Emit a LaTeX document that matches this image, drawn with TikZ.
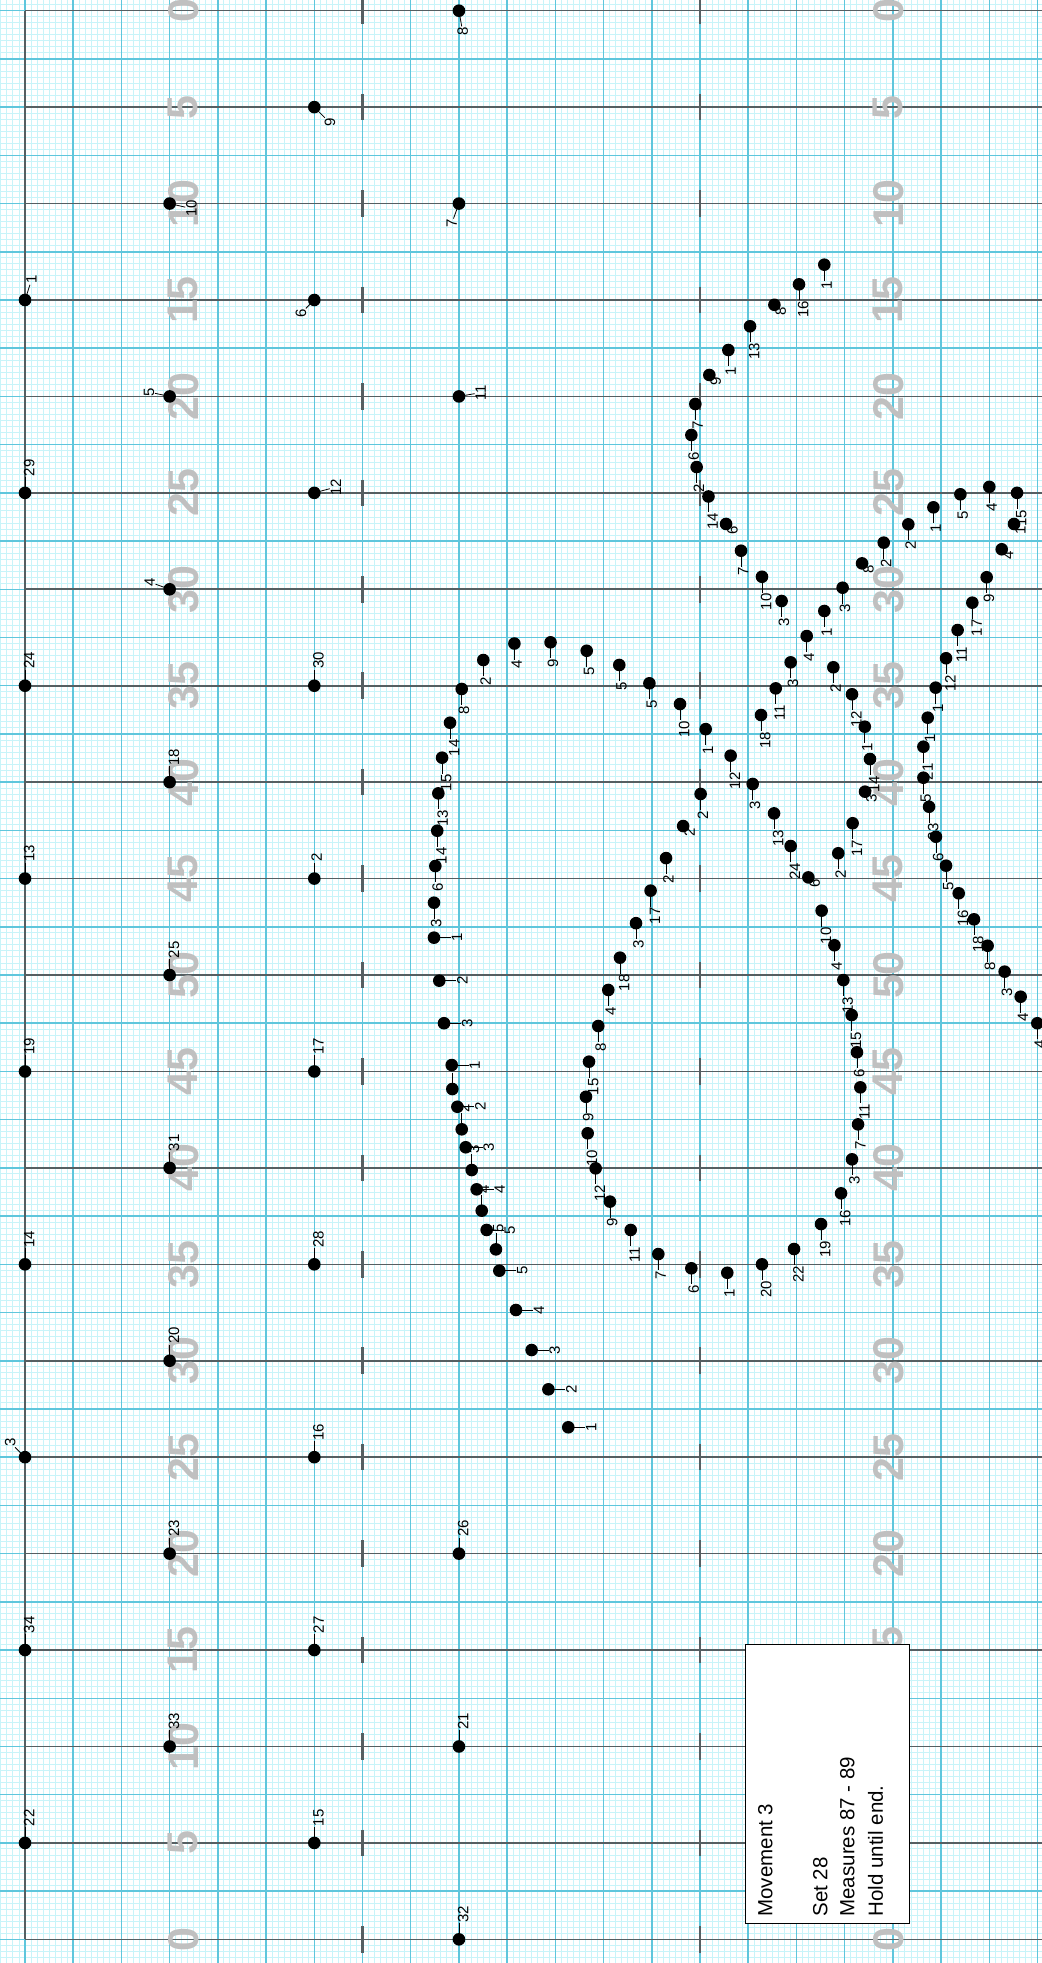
\documentclass[tikz,border=0pt]{standalone}
\usepackage{fontspec}
\setmainfont{Liberation Sans}
\usetikzlibrary{calc}
\pgfdeclarelayer{bg}
\pgfdeclarelayer{lab}
\pgfdeclarelayer{fg}
\pgfsetlayers{bg,lab,main,fg}
\definecolor{finec}{RGB}{200,244,249}
\definecolor{medc}{RGB}{95,198,220}
\definecolor{yardc}{RGB}{85,95,98}
\definecolor{numc}{RGB}{192,192,192}
\tikzset{
 pdot/.style={circle, fill=black, inner sep=0pt, minimum size=12.6pt},
 plab/.style={rotate=90, inner sep=0.6pt, font=\fontsize{15}{15}\selectfont},
 tickln/.style={line width=0.8pt, black},
 fineline/.style={finec, line width=0.9pt},
 medline/.style={medc, line width=1.5pt},
 yardline/.style={yardc, line width=1.6pt},
 hashmark/.style={yardc, line width=2.4pt},
 yardnum/.style={rotate=90, text=numc, inner sep=0pt, font=\fontsize{43}{43}\selectfont\bfseries},
 boxtext/.style={rotate=90, inner sep=0pt, anchor=base west, font=\fontsize{20.5}{24}\selectfont},
}
\newcounter{dn}
% X, Y, tick angle, tick length, label anchor, text
\newcommand\pdt[6]{%
 \stepcounter{dn}%
 \node[pdot] (d\thedn) at (#1,#2) {};%
 \begin{pgfonlayer}{lab}%
 \node[plab, anchor=#5] (l\thedn) at ($(d\thedn.center)+(#3:#4)$) {#6};%
 \draw[tickln] (d\thedn.center) -- (l\thedn.#5);%
 \end{pgfonlayer}}
\newcommand\dotD[3]{\pdt{#1}{#2}{-90}{16pt}{25}{#3}}
\newcommand\dotU[3]{\pdt{#1}{#2}{90}{16pt}{155}{#3}}
\newcommand\dotR[3]{\pdt{#1}{#2}{0}{17pt}{90}{#3}}
\newcommand\dotK[3]{\pdt{#1}{#2}{-45}{2pt}{45}{#3}}
\begin{document}
\begin{tikzpicture}[x=12.054pt, y=-12.054pt]
\path[use as bounding box] (-2.0740,-0.8877) rectangle (84.3700,161.9641);
\begin{pgfonlayer}{bg}
\fill[white] (-2.0740,-0.8877) rectangle (84.3700,161.9641);
\foreach \k in {-4,...,169} \draw[fineline] (\k/2,-1) -- (\k/2,162.5);
\foreach \k in {-2,...,325} \draw[fineline] (-2.1,\k/2) -- (84.5,\k/2);
\foreach \k in {0,...,21} \draw[medline] (4*\k,-1) -- (4*\k,162.5);
\foreach \k in {0,...,40} \draw[medline] (-2.1,4*\k) -- (84.5,4*\k);
\foreach \k in {0,...,20} {
  \draw[yardline] (0,8*\k) -- (84.5,8*\k);
  \draw[hashmark] (28,8*\k-1.1) -- (28,8*\k+1.1);
  \draw[hashmark] (56,8*\k-1.1) -- (56,8*\k+1.1);
}
\draw[yardline] (0,0) -- (0,160);
\foreach \k/\t in {0/0,1/5,2/10,3/15,4/20,5/25,6/30,7/35,8/40,9/45,10/50,11/45,12/40,13/35,14/30,15/25,16/20,17/15,18/10,19/5,20/0} {
  \node[yardnum] (yl\k) at (13.13,8*\k) {\t};
  \node[yardnum] (yr\k) at (71.62,8*\k) {\t};
}
\end{pgfonlayer}
% sideline column
\pdt{0}{24}{72}{16pt}{162}{1}
\dotU{0}{40}{29}
\dotU{0}{56}{24}
\dotU{0}{72}{13}
\dotU{0}{88}{19}
\dotU{0}{104}{14}
\pdt{0}{120}{135}{14pt}{225}{3}
\dotU{0}{136}{34}
\dotU{0}{152}{22}
% X=12
\pdt{12}{16}{-13}{16pt}{77}{10}
\pdt{12}{32}{168}{15pt}{258}{5}
\pdt{12}{48}{160}{15pt}{250}{4}
\dotU{12}{64}{18}
\dotU{12}{80}{25}
\dotU{12}{96}{31}
\dotU{12}{112}{20}
\dotU{12}{128}{23}
\dotU{12}{144}{33}
% X=24
\pdt{24}{8}{-45}{15pt}{45}{9}
\pdt{24}{24}{-135}{12pt}{315}{6}
\pdt{24}{40}{15}{16pt}{105}{12}
\dotU{24}{56}{30}
\dotU{24}{72}{2}
\dotU{24}{88}{17}
\dotU{24}{104}{28}
\dotU{24}{120}{16}
\dotU{24}{136}{27}
\dotU{24}{152}{15}
% X=36
\pdt{36}{0}{-80}{16pt}{10}{8}
\pdt{36}{16}{-110}{16pt}{340}{7}
\pdt{36}{32}{10}{16pt}{100}{11}
\dotU{36}{128}{26}
\dotU{36}{144}{21}
\dotU{36}{160}{32}
% group A
\dotD{66.31}{21.07}{1}
\dotD{64.21}{22.70}{16}
\dotK{62.17}{24.40}{8}
\dotD{60.15}{26.18}{13}
\dotD{58.35}{28.15}{1}
\dotK{56.77}{30.22}{9}
\dotD{55.61}{32.63}{7}
\dotD{55.28}{35.20}{6}
\dotD{55.72}{37.86}{2}
\dotD{56.70}{40.30}{14}
\dotK{58.16}{42.58}{6}
\dotD{59.40}{44.80}{7}
\dotD{61.14}{46.96}{10}
\dotD{62.77}{48.97}{3}
\dotD{64.85}{51.88}{4}
% group B
\dotD{66.31}{49.80}{1}
\dotD{67.83}{47.87}{3}
\dotK{69.44}{45.85}{8}
\dotD{71.24}{44.13}{2}
\dotD{73.28}{42.61}{2}
\dotD{75.36}{41.20}{1}
\dotD{77.60}{40.12}{5}
\dotD{80.00}{39.50}{4}
\dotD{82.30}{40.00}{15}
\dotK{82.05}{42.58}{1}
\dotK{81.03}{44.68}{4}
\dotD{79.78}{47.00}{9}
\dotD{78.59}{49.11}{17}
\dotD{77.37}{51.38}{11}
\dotD{76.41}{53.72}{12}
\dotD{75.55}{56.16}{1}
\dotD{74.89}{58.65}{1}
\dotD{74.53}{61.06}{21}
\dotD{74.53}{63.63}{5}
\dotD{75.00}{66.04}{23}
\dotD{75.57}{68.53}{6}
\dotD{76.41}{70.93}{5}
\dotD{77.46}{73.22}{16}
\dotD{78.73}{75.38}{18}
\dotD{79.86}{77.57}{8}
\dotD{81.27}{79.72}{3}
\dotD{82.60}{81.80}{4}
\dotD{83.98}{84.00}{4}
% group C
\dotD{63.52}{54.06}{3}
\dotD{62.28}{56.22}{11}
\dotD{61.06}{58.43}{18}
\dotD{60.37}{64.15}{3}
\dotD{62.14}{66.59}{13}
\dotD{63.52}{69.30}{24}
\dotK{64.99}{71.90}{6}
\dotD{66.09}{74.66}{10}
\dotD{67.15}{77.53}{4}
\dotD{67.89}{80.42}{13}
\dotD{68.58}{83.32}{15}
\dotD{69.02}{86.41}{6}
\dotD{69.30}{89.32}{11}
\dotD{69.11}{92.39}{7}
\dotD{68.61}{95.29}{3}
\dotD{67.70}{98.11}{16}
\dotD{66.04}{100.66}{19}
\dotD{63.80}{102.73}{22}
\dotD{61.14}{104.00}{20}
\dotD{58.26}{104.70}{1}
\dotD{55.28}{104.33}{6}
\dotD{52.54}{103.15}{7}
\dotD{50.25}{101.15}{11}
\dotD{48.53}{98.80}{9}
\dotD{47.34}{96.04}{12}
\dotD{46.68}{93.13}{10}
\dotD{46.54}{90.10}{9}
\dotD{46.79}{87.19}{15}
\dotD{47.56}{84.23}{8}
\dotD{48.39}{81.24}{4}
\dotD{49.36}{78.56}{18}
\dotD{50.69}{75.70}{3}
\dotD{51.90}{73.00}{17}
\dotD{53.18}{70.30}{2}
\dotK{54.60}{67.64}{2}
\dotD{56.05}{64.98}{2}
\dotD{58.54}{61.80}{12}
\dotD{56.47}{59.60}{1}
\dotD{54.34}{57.52}{10}
\dotD{51.80}{55.80}{5}
\dotD{49.30}{54.28}{5}
\dotD{46.60}{53.10}{5}
\dotD{43.60}{52.40}{9}
\dotD{40.60}{52.50}{4}
\dotD{38.02}{53.87}{2}
\dotD{36.23}{56.27}{8}
\dotD{35.26}{59.07}{14}
\dotD{34.60}{61.97}{15}
\dotD{34.29}{64.93}{13}
\dotD{34.20}{68.03}{14}
\dotD{34.04}{70.96}{6}
\dotD{33.93}{74.00}{3}
\dotR{33.93}{76.90}{1}
\dotR{34.37}{80.47}{2}
\dotR{34.76}{84.00}{3}
\dotR{35.40}{87.47}{1}
\dotU{35.45}{89.46}{}
\dotR{35.87}{90.93}{2}
\dotU{36.23}{92.80}{2}
\dotR{36.56}{94.29}{3}
\dotU{37.06}{96.18}{3}
\dotR{37.47}{97.78}{4}
\dotU{37.89}{99.55}{4}
\dotR{38.30}{101.15}{5}
\dotU{39.07}{102.76}{5}
\dotR{39.35}{104.53}{5}
\dotR{40.73}{107.79}{4}
\dotR{42.03}{111.11}{3}
\dotR{43.42}{114.37}{2}
\dotR{45.07}{117.52}{1}
% group D
\dotD{67.06}{54.47}{2}
\dotD{68.61}{56.71}{12}
\dotD{69.67}{59.40}{1}
\dotD{70.10}{62.08}{14}
\dotK{69.69}{64.79}{3}
\dotD{68.66}{67.41}{17}
\dotD{67.47}{69.90}{2}
% info box
\begin{pgfonlayer}{fg}
\node[draw=black, line width=1pt, fill=white, inner sep=0pt, minimum width=164.3pt, minimum height=278.4pt, anchor=north west] (infobox) at (59.73,135.53) {};
\node[boxtext] (bt1) at (62.00,158.12) {Movement 3};
\node[boxtext] (bt2) at (66.56,158.12) {Set 28};
\node[boxtext] (bt3) at (68.80,158.12) {Measures 87 - 89};
\node[boxtext] (bt4) at (71.16,158.12) {Hold until end.};
\end{pgfonlayer}
\end{tikzpicture}
\end{document}
